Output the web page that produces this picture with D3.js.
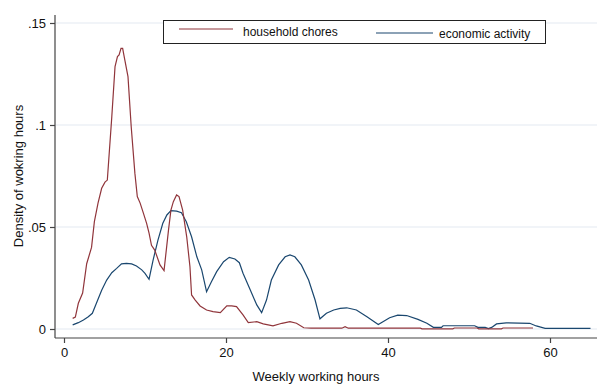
<!DOCTYPE html>
<html>
<head>
<meta charset="utf-8">
<script src="https://cdn.jsdelivr.net/npm/d3@7"></script>
<style>
    body { margin: 0; background: #fff; }
    svg { display: block; font-family: "Liberation Sans", Arial, sans-serif; }
</style>
</head>
<body>
<div id="chart"></div>
<script>
// weekly hours (x) and kernel density (y)
const choresHours = [1.07, 1.4, 1.77, 2.3, 2.8, 3.4, 3.75, 4.2, 4.65, 5.06, 5.35, 5.9, 6.3, 6.6, 6.8, 7.04, 7.24, 7.5, 7.9, 8.3, 8.75, 9.05, 9.4, 9.8, 10.2, 10.5, 10.8, 11.2, 11.85, 12.35, 12.9, 13.2, 13.5, 13.9, 14.2, 14.65, 15.15, 15.55, 15.75, 16.2, 16.8, 17.6, 18.4, 19.3, 20.1, 20.7, 21.3, 22.1, 22.75, 23.8, 24.6, 25.8, 26.9, 27.9, 28.7, 29.6, 30.5, 34.3, 34.7, 35.1, 44, 44.2, 48, 48.2, 51, 51.2, 54, 54.2, 57.9];
const choresDensity = [0.0052, 0.0058, 0.0126, 0.0176, 0.032, 0.040, 0.0526, 0.0617, 0.069, 0.072, 0.073, 0.104, 0.1286, 0.1335, 0.1343, 0.1376, 0.1376, 0.132, 0.1237, 0.099, 0.0764, 0.0649, 0.0617, 0.0568, 0.0518, 0.047, 0.041, 0.0387, 0.0314, 0.0286, 0.0485, 0.0583, 0.0624, 0.0657, 0.0649, 0.0583, 0.0452, 0.0305, 0.0167, 0.0142, 0.0113, 0.0093, 0.0085, 0.008, 0.0113, 0.0113, 0.011, 0.0069, 0.0031, 0.0036, 0.0025, 0.0015, 0.0028, 0.0036, 0.0028, 0.0006, 0.0004, 0.0004, 0.0011, 0.0004, 0.0004, 0.0001, 0.0001, 0.0005, 0.0005, 0.0001, 0.0001, 0.0005, 0.0005];

const workHours = [1.07, 1.77, 2.4, 3.0, 3.5, 4.0, 4.65, 5.27, 5.9, 6.5, 7.1, 7.7, 8.35, 8.95, 9.6, 10.0, 10.5, 11.0, 11.6, 12.2, 12.7, 13.2, 13.9, 14.5, 15.1, 15.75, 16.4, 17.0, 17.6, 18.2, 18.85, 19.7, 20.4, 21.1, 21.65, 22.1, 23.0, 23.8, 24.4, 25.0, 25.6, 26.5, 27.3, 27.9, 28.5, 29.3, 30.2, 31.0, 31.6, 32.4, 33.3, 34.1, 34.9, 36.1, 37.4, 38.8, 40.2, 41.2, 42.3, 43.7, 44.8, 45.6, 46.6, 46.8, 50.7, 51.1, 52.0, 52.4, 52.8, 53.4, 54.6, 57.5, 58.3, 59.4, 65];
const workDensity = [0.002, 0.0031, 0.0044, 0.006, 0.0077, 0.0126, 0.019, 0.024, 0.0276, 0.0297, 0.0319, 0.0322, 0.0319, 0.0309, 0.029, 0.0273, 0.0244, 0.0338, 0.0436, 0.0518, 0.0559, 0.058, 0.0578, 0.057, 0.0526, 0.0452, 0.0354, 0.029, 0.0183, 0.0232, 0.0281, 0.033, 0.0351, 0.0343, 0.0325, 0.0273, 0.0191, 0.0118, 0.008, 0.0142, 0.024, 0.0314, 0.0354, 0.0363, 0.0354, 0.0314, 0.024, 0.0142, 0.005, 0.0077, 0.0093, 0.0101, 0.0104, 0.0093, 0.006, 0.0022, 0.0055, 0.0068, 0.0066, 0.0047, 0.0028, 0.0008, 0.0008, 0.0016, 0.0016, 0.0008, 0.0008, 0.0002, 0.0008, 0.0025, 0.003, 0.0028, 0.0015, 0.0003, 0.0003];

const xTicks = [0, 20, 40, 60];
const yTicks = [0, 0.05, 0.1, 0.15];
const yTickLabels = ['0', '.05', '.1', '.15'];
const seriesNames = ['household chores', 'economic activity'];

const width = 597, height = 385;
const maroon = '#90353b', navy = '#1a476f';

const svg = d3.select('#chart').append('svg')
    .attr('width', width)
    .attr('height', height);

const x = d3.scaleLinear().domain([0, 60]).range([64, 550]);
const y = d3.scaleLinear().domain([0, 0.15]).range([329, 23]);

// gridlines
svg.append('g')
    .selectAll('line')
    .data(yTicks)
    .enter().append('line')
    .attr('x1', 56).attr('x2', width)
    .attr('y1', d => y(d)).attr('y2', d => y(d))
    .attr('stroke', '#e4e9f2')
    .attr('stroke-width', 1.2);

// axes
const yAxis = svg.append('g')
    .attr('transform', 'translate(55,0)')
    .call(d3.axisLeft(y).tickValues(yTicks).tickSize(5).tickPadding(4)
        .tickFormat((d, i) => yTickLabels[i]));
yAxis.select('.domain').attr('d', 'M0,15V338');

const xAxis = svg.append('g')
    .attr('transform', 'translate(0,338)')
    .call(d3.axisBottom(x).tickValues(xTicks).tickSize(5).tickPadding(5)
        .tickFormat(d3.format('d')));
xAxis.select('.domain').attr('d', 'M55,0H' + width);

svg.selectAll('.domain, .tick line').attr('stroke', '#444').attr('stroke-width', 1.2);
svg.selectAll('.tick text')
    .attr('fill', '#111')
    .style('font-family', '"Liberation Sans", Arial, sans-serif')
    .style('font-size', '13px');

// axis titles
svg.append('text')
    .attr('x', 316).attr('y', 381)
    .attr('text-anchor', 'middle')
    .style('font-size', '13px')
    .attr('fill', '#111')
    .text('Weekly working hours');

svg.append('text')
    .attr('transform', 'translate(23,176) rotate(-90)')
    .attr('text-anchor', 'middle')
    .style('font-size', '13px')
    .attr('fill', '#111')
    .text('Density of wokring hours');

// curves
const line = d3.line()
    .x(d => x(d[0]))
    .y(d => y(d[1]));

const chores = d3.zip(choresHours, choresDensity);
const work = d3.zip(workHours, workDensity);

svg.append('path')
    .datum(work)
    .attr('fill', 'none')
    .attr('stroke', navy)
    .attr('stroke-width', 1.2)
    .attr('d', line);

svg.append('path')
    .datum(chores)
    .attr('fill', 'none')
    .attr('stroke', maroon)
    .attr('stroke-width', 1.2)
    .attr('d', line);

// legend
const legend = svg.append('g');
legend.append('rect')
    .attr('x', 163.5).attr('y', 20.5)
    .attr('width', 382).attr('height', 23)
    .attr('fill', '#fff')
    .attr('stroke', '#222')
    .attr('stroke-width', 1);

const legendItems = [
    { name: seriesNames[0], color: maroon, x1: 179, x2: 233, ly: 29, tx: 243, ty: 36 },
    { name: seriesNames[1], color: navy, x1: 376, x2: 433, ly: 33, tx: 439, ty: 38 }
];

legendItems.forEach(d => {
    legend.append('line')
        .attr('x1', d.x1).attr('x2', d.x2)
        .attr('y1', d.ly).attr('y2', d.ly)
        .attr('stroke', d.color)
        .attr('stroke-width', 1.2);
    legend.append('text')
        .attr('x', d.tx).attr('y', d.ty)
        .style('font-size', '12px')
        .attr('fill', '#111')
        .text(d.name);
});
</script>
</body>
</html>
